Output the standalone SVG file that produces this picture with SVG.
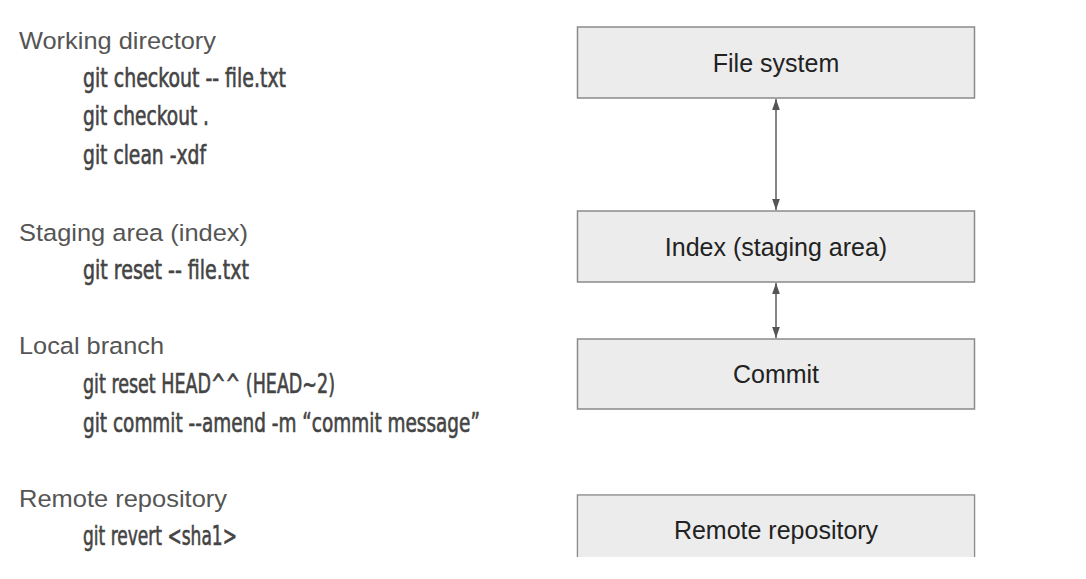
<svg xmlns="http://www.w3.org/2000/svg" width="1086" height="579" viewBox="0 0 1086 579">
<style>
.lbl{font-family:"Liberation Sans",Arial,sans-serif;font-size:24.5px;fill:#555}
.cmd{font-family:"DejaVu Sans Condensed","DejaVu Sans",sans-serif;font-size:26.5px;fill:#444;stroke:#444;stroke-width:0.6}
.box{fill:#ececec;stroke:#8a8a8a;stroke-width:1.5}
.bt{font-family:"Liberation Sans",Arial,sans-serif;font-size:25px;fill:#222;text-anchor:middle}
.con{stroke:#666;stroke-width:1.6;fill:none;marker-start:url(#ah);marker-end:url(#ah)}
</style>
<defs>
<marker id="ah" viewBox="0 0 10 10" refX="10" refY="5" markerWidth="11" markerHeight="11" markerUnits="userSpaceOnUse" orient="auto-start-reverse">
<path d="M0,1.5 L10,5 L0,8.5 Z" fill="#555"/>
</marker>
</defs>
<rect width="1086" height="579" fill="#fff"/>
<g id="left-text">
<text class="lbl" x="19" y="49" textLength="197" lengthAdjust="spacingAndGlyphs">Working directory</text>
<text class="cmd" x="83" y="87" textLength="203" lengthAdjust="spacingAndGlyphs">git checkout -- file.txt</text>
<text class="cmd" x="83" y="125" textLength="126" lengthAdjust="spacingAndGlyphs">git checkout .</text>
<text class="cmd" x="83" y="164" textLength="123" lengthAdjust="spacingAndGlyphs">git clean -xdf</text>
<text class="lbl" x="19" y="241" textLength="229" lengthAdjust="spacingAndGlyphs">Staging area (index)</text>
<text class="cmd" x="83" y="279" textLength="166" lengthAdjust="spacingAndGlyphs">git reset -- file.txt</text>
<text class="lbl" x="19" y="354" textLength="145" lengthAdjust="spacingAndGlyphs">Local branch</text>
<text class="cmd" x="83" y="393" textLength="252" lengthAdjust="spacingAndGlyphs">git reset HEAD^^ (HEAD~2)</text>
<text class="cmd" x="83" y="432" textLength="397" lengthAdjust="spacingAndGlyphs">git commit --amend -m “commit message”</text>
<text class="lbl" x="19" y="507" textLength="208" lengthAdjust="spacingAndGlyphs">Remote repository</text>
<text class="cmd" x="83" y="545" textLength="154" lengthAdjust="spacingAndGlyphs">git revert &lt;sha1&gt;</text>
</g>
<g id="connectors">
<line class="con" x1="776" y1="99" x2="776" y2="210"/>
<line class="con" x1="776" y1="283" x2="776" y2="338"/>
</g>
<g id="node-filesystem">
<rect class="box" x="577.5" y="27" width="397" height="71"/>
<text class="bt" x="776" y="72">File system</text>
</g>
<g id="node-index">
<rect class="box" x="577.5" y="211" width="397" height="71"/>
<text class="bt" x="776" y="256">Index (staging area)</text>
</g>
<g id="node-commit">
<rect class="box" x="577.5" y="339" width="397" height="70"/>
<text class="bt" x="776" y="383">Commit</text>
</g>
<g id="node-remote">
<path class="box" d="M577.5,557 V495 H974.5 V557" />
<rect x="578.3" y="495.8" width="395.4" height="61.2" fill="#ececec"/>
<text class="bt" x="776" y="539">Remote repository</text>
</g>
</svg>
